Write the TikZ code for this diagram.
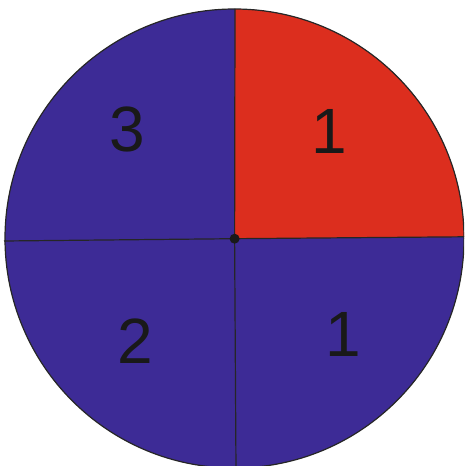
\documentclass[tikz,border=0pt]{standalone}
\usepackage{fontspec}
\setmainfont{Liberation Sans}
\definecolor{sred}{HTML}{DC2E1E}
\definecolor{sblue}{HTML}{3D2B96}
\begin{document}
\begin{tikzpicture}[x=1pt,y=1pt,
  lbl/.style={inner sep=0pt,text depth=0pt,font=\fontsize{64}{64}\selectfont,text=black!90}]
\useasboundingbox (0,0) rectangle (464,466);
\clip (0,0) rectangle (464,466);
\coordinate (c) at (234.6,227.3);
\coordinate (top) at (235,457);
\coordinate (rgt) at (464,229.2);
\coordinate (lft) at (4,225);
\coordinate (bot) at (236,-5);
\fill[sblue] (234.5,227.5) circle (229.5);
\fill[sred] (c) -- (top) arc[start angle=89.9, end angle=0.4, radius=229.5] -- cycle;
\draw[line width=1.2pt,black!85] (234.5,227.5) circle (229.5);
\draw[line width=1.2pt,black!85] (top) -- (c) -- (bot);
\draw[line width=1.2pt,black!85] (lft) -- (c) -- (rgt);
\fill[black!90] (c) circle (5);
\node[lbl] (n3) at (127.5,337) {3};
\node[lbl] (n1a) at (329.5,335) {1};
\node[lbl] (n2) at (135,125) {2};
\node[lbl] (n1b) at (343,131.5) {1};
\end{tikzpicture}
\end{document}
